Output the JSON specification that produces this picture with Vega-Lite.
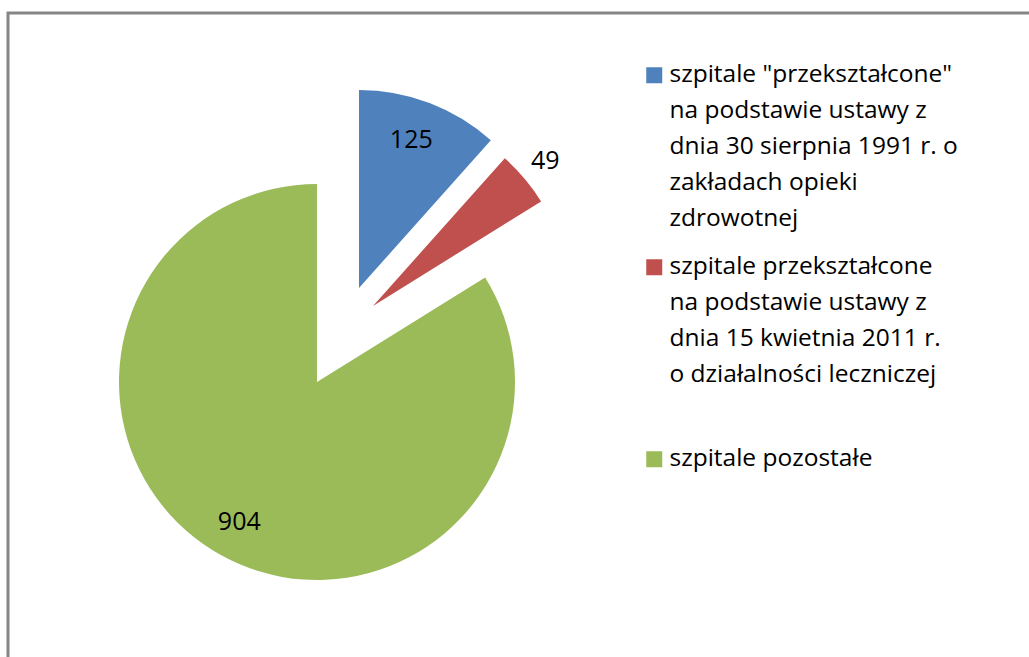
{
  "$schema": "https://vega.github.io/schema/vega-lite/v6.json",
  "width": 1100,
  "height": 700,
  "autosize": "none",
  "padding": {"left": 8, "top": 13, "right": 0, "bottom": 0},
  "background": "white",
  "config": {
    "view": {"stroke": "#868686", "strokeWidth": 3},
    "font": "Open Sans",
    "style": {"guide-label": {"lineHeight": 36}}
  },
  "data": {
    "values": [
      {"category": "szpitale \"przekształcone\"\nna podstawie ustawy z\ndnia 30 sierpnia 1991 r. o\nzakładach opieki\nzdrowotnej", "count": 125, "rank": 1},
      {"category": "szpitale przekształcone\nna podstawie ustawy z\ndnia 15 kwietnia 2011 r.\no działalności leczniczej", "count": 49, "rank": 2},
      {"category": "szpitale pozostałe", "count": 904, "rank": 3}
    ]
  },
  "encoding": {
    "theta": {"field": "count", "type": "quantitative", "stack": true},
    "order": {"field": "rank", "type": "quantitative"},
    "x": {"value": 309},
    "y": {"value": 369}
  },
  "layer": [
    {
      "mark": {"type": "arc", "radius": 198},
      "encoding": {
        "color": {
          "field": "category", "type": "nominal", "sort": null,
          "scale": {"range": ["#4F81BD", "#C0504D", "#9BBB59"]},
          "legend": {
            "title": null, "orient": "none", "legendX": 634, "legendY": 50,
            "padding": 0, "symbolType": "square", "symbolSize": 256,
            "symbolStrokeWidth": 0, "symbolOpacity": 1,
            "labelFont": "Open Sans", "labelFontSize": 24.5, "labelColor": "#000000",
            "labelLimit": 0, "labelOffset": 3, "rowPadding": 23,
            "labelExpr": "indexof(datum.label, 'kwietnia') >= 0 ? split(datum.label + '\\n ', '\\n') : split(datum.label, '\\n')"
          }
        },
        "opacity": {"condition": {"test": "datum.rank === 3", "value": 1}, "value": 0}
      }
    },
    {
      "mark": {"type": "arc", "radius": 198, "xOffset": 42, "yOffset": -94},
      "encoding": {
        "color": {"field": "category", "type": "nominal", "sort": null},
        "opacity": {"condition": {"test": "datum.rank === 1", "value": 1}, "value": 0}
      }
    },
    {
      "mark": {"type": "arc", "radius": 198, "xOffset": 56, "yOffset": -76},
      "encoding": {
        "color": {"field": "category", "type": "nominal", "sort": null},
        "opacity": {"condition": {"test": "datum.rank === 2", "value": 1}, "value": 0}
      }
    },
    {
      "mark": {"type": "text", "radius": 160, "fontSize": 25, "font": "Open Sans", "color": "#000000"},
      "encoding": {
        "text": {"field": "count", "type": "quantitative"},
        "opacity": {"condition": {"test": "datum.rank === 3", "value": 1}, "value": 0}
      }
    },
    {
      "mark": {"type": "text", "radius": 158, "fontSize": 25, "font": "Open Sans", "color": "#000000", "xOffset": 38, "yOffset": -94},
      "encoding": {
        "text": {"field": "count", "type": "quantitative"},
        "opacity": {"condition": {"test": "datum.rank === 1", "value": 1}, "value": 0}
      }
    },
    {
      "mark": {"type": "text", "radius": 225, "fontSize": 25, "font": "Open Sans", "color": "#000000", "xOffset": 56, "yOffset": -76},
      "encoding": {
        "text": {"field": "count", "type": "quantitative"},
        "opacity": {"condition": {"test": "datum.rank === 2", "value": 1}, "value": 0}
      }
    }
  ]
}
